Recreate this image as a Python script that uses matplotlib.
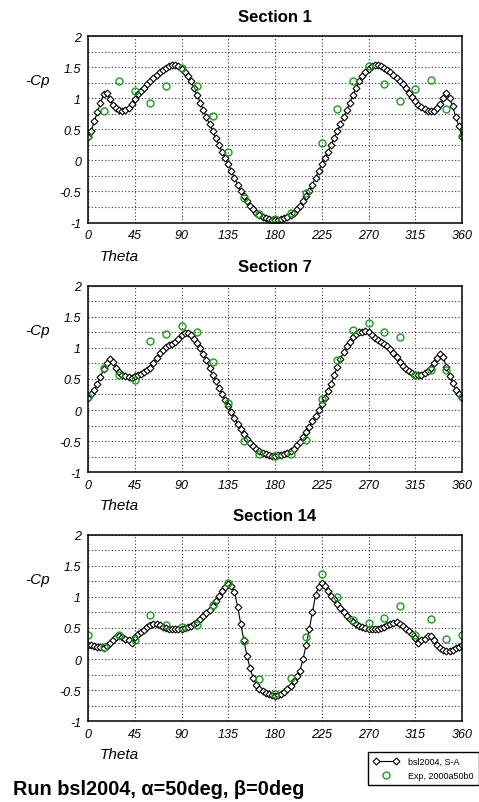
import numpy as np
import matplotlib
matplotlib.use("Agg")
import matplotlib.pyplot as plt
from matplotlib.lines import Line2D
from matplotlib.legend_handler import HandlerLine2D

plt.rcParams["font.family"] = ["Liberation Sans", "DejaVu Sans"]
plt.rcParams["axes.unicode_minus"] = False

# CFD surface points every 3 deg, -Cp values
theta_cfd = np.arange(0, 361, 3)
cp_sec1 = [
    0.38, 0.47, 0.63, 0.77, 0.92, 1.07, 1.08, 0.98, 0.89, 0.84,
    0.81, 0.80, 0.81, 0.84, 0.90, 0.99, 1.06, 1.11, 1.17, 1.22,
    1.27, 1.32, 1.37, 1.42, 1.46, 1.49, 1.52, 1.54, 1.53, 1.51,
    1.47, 1.42, 1.35, 1.27, 1.17, 1.05, 0.93, 0.81, 0.69, 0.58,
    0.47, 0.36, 0.25, 0.14, 0.04, -0.06, -0.17, -0.28, -0.39, -0.49,
    -0.58, -0.66, -0.73, -0.79, -0.84, -0.88, -0.91, -0.93, -0.95, -0.96,
    -0.96, -0.96, -0.95, -0.93, -0.91, -0.88, -0.84, -0.79, -0.73, -0.66,
    -0.58, -0.49, -0.39, -0.28, -0.17, -0.06, 0.04, 0.14, 0.25, 0.36,
    0.47, 0.58, 0.69, 0.81, 0.93, 1.05, 1.17, 1.27, 1.35, 1.42,
    1.47, 1.51, 1.53, 1.54, 1.52, 1.49, 1.46, 1.42, 1.37, 1.32,
    1.28, 1.23, 1.17, 1.09, 1.02, 0.95, 0.89, 0.85, 0.82, 0.80,
    0.79, 0.80, 0.84, 0.91, 1.00, 1.08, 1.00, 0.87, 0.70, 0.55,
    0.38,
]
cp_sec7 = [
    0.20, 0.25, 0.32, 0.42, 0.53, 0.66, 0.76, 0.82, 0.78, 0.68,
    0.61, 0.57, 0.55, 0.53, 0.52, 0.54, 0.56, 0.58, 0.61, 0.64,
    0.68, 0.75, 0.84, 0.92, 0.97, 1.01, 1.04, 1.07, 1.10, 1.15,
    1.20, 1.24, 1.24, 1.21, 1.15, 1.08, 1.00, 0.90, 0.80, 0.68,
    0.57, 0.46, 0.36, 0.26, 0.16, 0.07, -0.03, -0.13, -0.22, -0.31,
    -0.39, -0.47, -0.53, -0.58, -0.62, -0.66, -0.69, -0.71, -0.73, -0.74,
    -0.74, -0.73, -0.72, -0.71, -0.69, -0.66, -0.62, -0.57, -0.51, -0.44,
    -0.36, -0.27, -0.18, -0.09, 0.00, 0.10, 0.20, 0.31, 0.42, 0.56,
    0.70, 0.82, 0.93, 1.03, 1.10, 1.17, 1.22, 1.25, 1.26, 1.27,
    1.25, 1.20, 1.16, 1.12, 1.09, 1.06, 1.03, 0.98, 0.92, 0.85,
    0.78, 0.71, 0.66, 0.62, 0.59, 0.57, 0.56, 0.57, 0.60, 0.63,
    0.67, 0.75, 0.84, 0.90, 0.85, 0.69, 0.55, 0.43, 0.33, 0.25,
    0.20,
]
cp_sec14 = [
    0.22, 0.22, 0.21, 0.20, 0.19, 0.18, 0.21, 0.26, 0.31, 0.35,
    0.37, 0.36, 0.33, 0.30, 0.25, 0.35, 0.40, 0.43, 0.47, 0.51,
    0.54, 0.57, 0.57, 0.54, 0.52, 0.50, 0.49, 0.48, 0.48, 0.49,
    0.49, 0.50, 0.51, 0.53, 0.56, 0.59, 0.64, 0.69, 0.74, 0.79,
    0.85, 0.93, 1.01, 1.09, 1.16, 1.21, 1.17, 1.08, 0.84, 0.57,
    0.30, 0.05, -0.15, -0.30, -0.41, -0.48, -0.52, -0.55, -0.57, -0.58,
    -0.59, -0.58, -0.56, -0.53, -0.49, -0.44, -0.36, -0.28, -0.19, 0.00,
    0.23, 0.48, 0.75, 1.03, 1.16, 1.23, 1.18, 1.10, 1.02, 0.96,
    0.89, 0.82, 0.75, 0.69, 0.64, 0.60, 0.56, 0.53, 0.51, 0.50,
    0.49, 0.48, 0.48, 0.49, 0.50, 0.52, 0.54, 0.56, 0.58, 0.59,
    0.57, 0.53, 0.49, 0.45, 0.41, 0.34, 0.25, 0.30, 0.33, 0.37,
    0.37, 0.30, 0.23, 0.18, 0.15, 0.13, 0.13, 0.14, 0.17, 0.20,
    0.22,
]

# wind tunnel taps every 15 deg
theta_exp = np.arange(0, 361, 15)
exp_sec1 = [0.39, 0.79, 1.27, 1.11, 0.925, 1.20, 1.48, 1.20, 0.71, 0.13,
            -0.60, -0.87, -0.94, -0.845, -0.52, 0.28, 0.83, 1.27, 1.52, 1.23,
            0.95, 1.15, 1.30, 0.82, 0.39]
exp_sec7 = [0.215, 0.67, 0.56, 0.49, 1.11, 1.23, 1.35, 1.25, 0.77, 0.12,
            -0.505, -0.70, -0.74, -0.70, -0.48, 0.17, 0.81, 1.28, 1.40, 1.26,
            1.18, 0.565, 0.65, 0.645, 0.215]
exp_sec14 = [0.39, 0.20, 0.39, 0.31, 0.71, 0.555, 0.51, 0.54, 0.87, 1.23,
             0.29, -0.32, -0.56, -0.30, 0.355, 1.36, 0.99, 0.63, 0.585, 0.66,
             0.85, 0.39, 0.65, 0.33, 0.39]

sections = ["Section 1", "Section 7", "Section 14"]
cfd = [cp_sec1, cp_sec7, cp_sec14]
exp = [exp_sec1, exp_sec7, exp_sec14]

W, H = 479, 803
fig = plt.figure(figsize=(W / 100, H / 100), dpi=100)
tops = [37, 286.7, 535.7]
left, width, height = 88, 374, 186.5
green = "#1e9a1e"
diamond = dict(color="black", lw=0.8, marker="D", ms=3.5,
               mfc="white", mec="black", mew=0.8)
circle = dict(ls="none", marker="o", ms=5, mfc="none", mec=green, mew=1.0)

for top, name, cp, ex in zip(tops, sections, cfd, exp):
    ax = fig.add_axes([left / W, 1 - (top + height) / H, width / W, height / H])
    ax.plot(theta_cfd, cp, **diamond)
    ax.plot(theta_exp, ex, **circle)
    ax.set_xlim(0, 360)
    ax.set_ylim(-1, 2)
    ax.set_xticks(range(0, 361, 45))
    ax.set_yticks([-1, -0.5, 0, 0.5, 1, 1.5, 2])
    ax.set_yticklabels(["-1", "-0.5", "0", "0.5", "1", "1.5", "2"])
    ax.set_yticks([-0.75, -0.25, 0.25, 0.75, 1.25, 1.75], minor=True)
    ax.grid(which="both", color="#333333", lw=0.8, ls=(0, (1, 2)))
    ax.tick_params(which="both", length=0, labelsize=9, pad=5)
    for lbl in ax.get_xticklabels() + ax.get_yticklabels():
        lbl.set_style("italic")
    for sp in ax.spines.values():
        sp.set_linewidth(1.1)
    ax.text(0.5, 1 + 19 / height, name, transform=ax.transAxes,
            ha="center", va="center", fontsize=12, fontweight="bold")
    ax.text(-0.134, 0.763, "-Cp", transform=ax.transAxes, ha="center",
            va="center", fontsize=11, style="italic")
    ax.text(0.083, -0.177, "Theta", transform=ax.transAxes, ha="center",
            va="center", fontsize=11, style="italic")

fig.text(12.7 / W, 1 - 789.5 / H, "Run bsl2004, \u03b1=50deg, \u03b2=0deg",
         ha="left", va="center", fontsize=14.3, fontweight="bold")

h_cfd = Line2D([], [], **diamond)
h_exp = Line2D([], [], **circle)
leg = fig.legend([h_cfd, h_exp], ["bsl2004, S-A", "Exp, 2000a50b0"],
                 loc="upper left", bbox_to_anchor=(368 / W, 1 - 753 / H),
                 borderaxespad=0, fontsize=6.5, numpoints=2,
                 handlelength=2.9, handletextpad=1.0, borderpad=0.55,
                 labelspacing=0.6, fancybox=False, edgecolor="black",
                 framealpha=1,
                 handler_map={h_exp: HandlerLine2D(numpoints=1)})
leg.get_frame().set_linewidth(1.0)

fig.savefig("out.png", dpi=100)
